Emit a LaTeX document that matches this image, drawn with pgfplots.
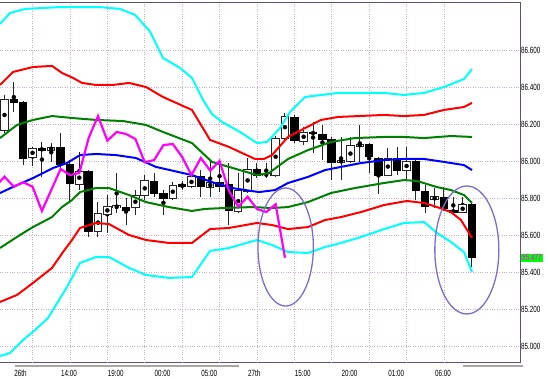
\documentclass[border=0pt]{standalone}
\usepackage{pgfplots}
\pgfplotsset{compat=1.18}
\usepackage{pgfplotstable}
\usepackage{fontspec}
\setmainfont{Liberation Sans}

\definecolor{cy}{RGB}{0,255,255}
\definecolor{rd}{RGB}{255,0,0}
\definecolor{gn}{RGB}{0,128,0}
\definecolor{bl}{RGB}{0,0,255}
\definecolor{mg}{RGB}{255,0,255}
\definecolor{gridc}{RGB}{205,170,210}
\definecolor{framec}{RGB}{100,80,110}
\definecolor{ellc}{RGB}{125,110,205}
\definecolor{lblg}{RGB}{0,255,0}

\pgfplotstableread{
x o h l c
1 86.164 86.357 86.151 86.334
4 86.020 86.076 85.973 86.069
6 86.059 86.099 85.996 86.074
9 85.876 86.050 85.843 85.946
11 85.618 85.780 85.591 85.717
12 85.714 85.816 85.609 85.753
13 85.748 85.934 85.717 85.758
15 85.750 85.843 85.708 85.812
16 85.812 85.924 85.789 85.894
19 85.798 85.888 85.789 85.870
21 85.861 85.941 85.854 85.915
23 85.858 86.005 85.807 85.885
26 85.726 85.935 85.719 85.843
27 85.834 86.016 85.827 85.957
29 85.920 85.989 85.908 85.935
30 85.924 86.135 85.914 86.124
31 86.124 86.259 86.114 86.243
33 86.108 86.184 86.086 86.157
37 85.993 86.131 85.897 86.005
38 85.996 86.131 85.989 86.086
39 86.081 86.195 85.996 86.092
42 85.924 86.070 85.919 86.016
44 85.948 86.076 85.897 86.000
47 85.793 85.854 85.746 85.807
50 85.721 85.807 85.719 85.766
}\bull

\pgfplotstableread{
x o h l c
2 86.334 86.427 86.265 86.317
3 86.317 86.324 85.978 86.015
5 86.072 86.103 85.914 86.056
7 86.074 86.153 85.951 85.982
8 85.982 86.005 85.773 85.876
10 85.946 85.951 85.591 85.618
14 85.750 85.800 85.654 85.731
17 85.894 85.934 85.807 85.825
18 85.825 85.843 85.708 85.795
20 85.874 85.892 85.843 85.861
22 85.921 85.951 85.807 85.861
24 85.885 86.005 85.832 85.861
25 85.876 85.989 85.654 85.730
28 85.957 85.989 85.908 85.924
32 86.239 86.249 86.097 86.110
34 86.157 86.212 86.043 86.146
35 86.146 86.195 86.005 86.119
36 86.119 86.130 85.897 85.993
40 86.092 86.097 85.935 86.022
41 86.015 86.022 85.825 85.924
43 86.016 86.076 85.924 85.948
45 86.000 86.005 85.789 85.839
46 85.838 85.870 85.719 85.753
48 85.802 85.861 85.730 85.741
49 85.735 85.807 85.714 85.724
51 85.768 85.773 85.429 85.477
}\bear

\begin{document}
\begin{tikzpicture}[x=1pt,y=1pt]
\useasboundingbox (0,0) rectangle (548,378);
\fill[white] (0,0) rectangle (548,378);
\begin{axis}[
  at={(0pt,16pt)}, anchor=south west,
  scale only axis, width=520.7pt, height=359.3pt,
  xmin=0.519, xmax=56.21, ymin=84.9135, ymax=86.8557,
  clip mode=individual,
  axis line style={framec, line width=1pt},
  major tick length=0pt,
  /pgf/number format/assume math mode=true,
  ytick={85.0,85.2,85.4,85.6,85.8,86.0,86.2,86.4,86.6},
  yticklabel pos=right,
  yticklabel={\pgfmathprintnumber[fixed,fixed zerofill,precision=3]{\tick}},
  yticklabel style={font=\fontsize{9}{9}\selectfont, xscale=0.7, inner sep=0pt, anchor=west, xshift=0.5pt},
  ymajorgrids,
  xtick={2,7,12,17,22,27,32,37,42,47},
  xticklabels={26th,14:00,19:00,00:00,05:00,27th,15:00,20:00,01:00,06:00},
  xticklabel style={font=\fontsize{9}{9}\selectfont, xscale=0.7, inner sep=0pt, anchor=north west, yshift=-8pt, xshift=0.5pt},
  extra x ticks={4,8,...,48},
  extra x tick labels={},
  extra x tick style={grid=major},
  grid style={dotted, line width=0.7pt, gridc},
]
% wicks
\addplot[forget plot, only marks, mark=none, error bars/.cd, y dir=both, y explicit, error mark=none,
  error bar style={line width=1pt, black!85}]
  table[x=x, y expr={(\thisrow{h}+\thisrow{l})/2}, y error expr={(\thisrow{h}-\thisrow{l})/2}] {\bull};
\addplot[forget plot, only marks, mark=none, error bars/.cd, y dir=both, y explicit, error mark=none,
  error bar style={line width=1pt, black!85}]
  table[x=x, y expr={(\thisrow{h}+\thisrow{l})/2}, y error expr={(\thisrow{h}-\thisrow{l})/2}] {\bear};
% bear bodies
\addplot[forget plot, only marks, mark=none, error bars/.cd, y dir=both, y explicit, error mark=none,
  error bar style={line width=8.5pt, black}]
  table[x=x, y expr={(\thisrow{o}+\thisrow{c})/2}, y error expr={abs(\thisrow{o}-\thisrow{c})/2+0.0015}] {\bear};
% bull bodies
\addplot[forget plot, only marks, mark=none, error bars/.cd, y dir=both, y explicit, error mark=none,
  error bar style={line width=8.5pt, black!85}]
  table[x=x, y expr={(\thisrow{o}+\thisrow{c})/2}, y error expr={abs(\thisrow{o}-\thisrow{c})/2+0.0027}] {\bull};
\addplot[forget plot, only marks, mark=none, error bars/.cd, y dir=both, y explicit, error mark=none,
  error bar style={line width=6.5pt, white}]
  table[x=x, y expr={(\thisrow{o}+\thisrow{c})/2}, y error expr={max(abs(\thisrow{o}-\thisrow{c})/2-0.0027,0)}] {\bull};

% bands
\addplot[cy, line width=2pt, mark=none] coordinates {(0.52,86.741)(1.59,86.800)(3.19,86.822)(6.94,86.832)(11.21,86.832)(13.35,86.822)(14.96,86.790)(16.56,86.700)(17.95,86.557)(19.77,86.503)(21.05,86.449)(22.23,86.330)(23.19,86.254)(24.26,86.211)(26.19,86.157)(28.01,86.097)(29.08,86.103)(30.47,86.178)(31.54,86.265)(33.14,86.346)(36.67,86.368)(41.59,86.368)(43.73,86.357)(45.87,86.368)(48.01,86.400)(50.14,86.443)(51,86.497)};
\addplot[rd, line width=2pt, mark=none] coordinates {(0.52,86.411)(1.91,86.481)(4.05,86.508)(6.08,86.514)(7.15,86.476)(8.33,86.449)(9.29,86.422)(10.79,86.411)(12.60,86.411)(14.32,86.422)(16.13,86.400)(17.95,86.346)(21.05,86.276)(22.98,86.114)(25.01,86.076)(27.79,86.011)(28.75,86.011)(29.61,86.032)(31.32,86.130)(33.14,86.178)(34.85,86.222)(36.67,86.238)(41.59,86.249)(43.73,86.243)(45.87,86.249)(48.01,86.276)(50.14,86.292)(51,86.314)};
\addplot[gn, line width=2pt, mark=none] coordinates {(0.52,86.124)(2.34,86.195)(4.05,86.222)(6.08,86.243)(8.33,86.232)(10.79,86.222)(13.67,86.216)(16.13,86.195)(17.95,86.157)(21.05,86.097)(23.19,85.995)(25.01,85.968)(28.01,85.924)(29.29,85.935)(31.32,86.011)(33.46,86.059)(35.92,86.103)(38.49,86.124)(41.59,86.130)(43.73,86.130)(45.87,86.124)(48.75,86.135)(51,86.130)};
\addplot[bl, line width=2pt, mark=none] coordinates {(0.52,85.827)(2.34,85.870)(4.05,85.908)(6.19,85.962)(7.68,85.989)(9.08,86.032)(10.79,86.038)(12.93,86.032)(15.07,86.016)(17.20,85.968)(21.05,85.924)(23.19,85.886)(25.33,85.854)(28.22,85.832)(29.93,85.843)(31.32,85.881)(33.46,85.914)(35.28,85.951)(36.99,85.968)(39.13,85.989)(41.59,86.005)(43.73,86.011)(45.87,86.011)(48.01,85.995)(50.14,85.978)(51,85.951)};
\addplot[gn, line width=2pt, mark=none] coordinates {(0.52,85.530)(2.66,85.600)(4.05,85.643)(6.08,85.697)(7.15,85.751)(8.22,85.789)(9.08,85.832)(10.79,85.854)(12.18,85.854)(14.32,85.816)(16.13,85.778)(18.59,85.751)(21.05,85.730)(22.44,85.741)(24.58,85.746)(27.47,85.751)(29.61,85.746)(31.32,85.751)(33.46,85.778)(35.92,85.827)(38.49,85.854)(41.59,85.881)(43.73,85.897)(45.12,85.892)(47.26,85.859)(48.75,85.843)(50.14,85.816)(51,85.773)};
\addplot[rd, line width=2pt, mark=none] coordinates {(0.52,85.238)(2.34,85.276)(4.05,85.341)(6.08,85.422)(7.26,85.508)(8.22,85.573)(9.08,85.638)(10.79,85.665)(12.18,85.659)(14.32,85.600)(16.13,85.573)(18.59,85.557)(21.05,85.557)(22.98,85.632)(25.01,85.638)(28.01,85.665)(29.61,85.654)(31.32,85.632)(33.46,85.643)(35.28,85.681)(36.99,85.697)(39.13,85.724)(41.59,85.762)(44.05,85.784)(45.87,85.773)(47.26,85.751)(48.75,85.724)(49.82,85.681)(51,85.584)};
\addplot[cy, line width=2pt, mark=none] coordinates {(0.52,84.946)(1.59,84.962)(2.98,85.032)(4.26,85.086)(5.65,85.151)(7.68,85.319)(9.08,85.449)(10.79,85.481)(12.18,85.481)(14.32,85.422)(16.13,85.384)(18.59,85.368)(21.05,85.373)(22.98,85.514)(25.01,85.530)(28.01,85.573)(29.61,85.546)(31.32,85.508)(33.46,85.503)(35.28,85.535)(36.99,85.557)(39.13,85.589)(41.59,85.632)(43.73,85.665)(45.87,85.670)(47.26,85.611)(48.75,85.562)(50.14,85.508)(51,85.400)};
% lagging line
\addplot[mg, line width=2.2pt, mark=none] coordinates {(0,85.861)(1,85.915)(2,85.861)(3,85.885)(4,85.861)(5,85.730)(6,85.843)(7,85.957)(8,85.924)(9,85.935)(10,86.124)(11,86.243)(12,86.110)(13,86.157)(14,86.146)(15,86.119)(16,85.993)(17,86.005)(18,86.086)(19,86.092)(20,86.022)(21,85.924)(22,86.016)(23,85.948)(24,86.000)(25,85.839)(26,85.753)(27,85.807)(28,85.741)(29,85.724)(30,85.766)(31,85.477)};

\draw[ellc, line width=1.3pt] (axis cs:31.07,85.535) ellipse [x radius=27.7pt, y radius=59pt];
\draw[ellc, line width=1.3pt] (axis cs:50.45,85.519) ellipse [x radius=32pt, y radius=64pt];

\node[fill=lblg, text=mg, anchor=west, inner xsep=2pt, inner ysep=1pt, font=\fontsize{9}{9}\selectfont, xscale=0.7] at (axis cs:56.21,85.477) {85.477};
\end{axis}
\draw[gray!70, line width=2pt] (14.7,12) -- (238.7,12);
\draw[gray!70, line width=2pt] (463,12) -- (523,12);
\end{tikzpicture}
\end{document}
